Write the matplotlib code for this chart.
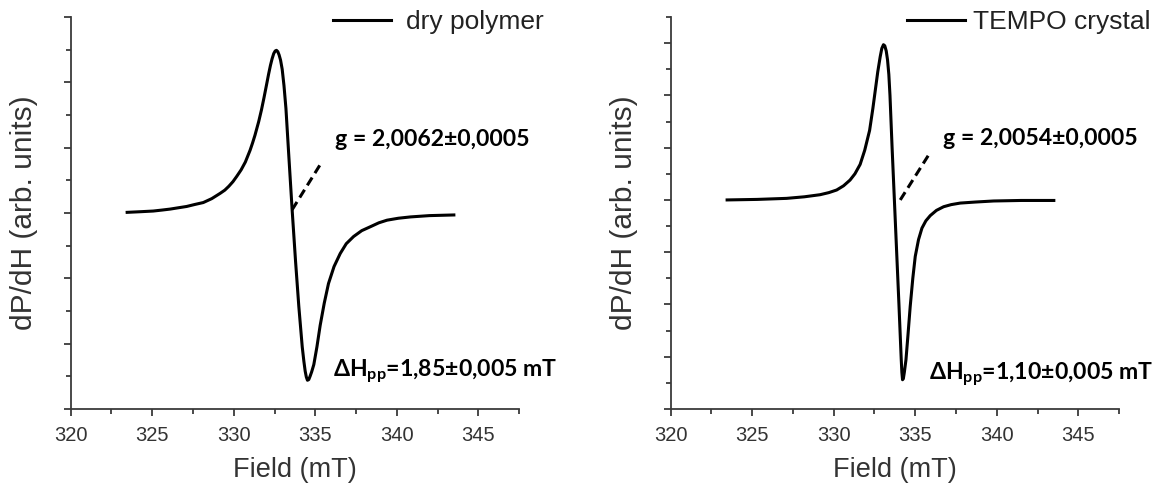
import matplotlib
matplotlib.use('Agg')
import matplotlib.pyplot as plt
from matplotlib.ticker import MultipleLocator

# EPR derivative spectra
poly_field = [323.46, 324.30, 325.06, 325.60, 326.10, 326.60, 327.11, 327.60, 328.13,
              328.65, 329.16, 329.45, 329.70, 329.95, 330.18, 330.45, 330.71, 331.00,
              331.15, 331.30, 331.53, 331.70, 331.85, 332.00, 332.14, 332.25, 332.35,
              332.45, 332.54, 332.62, 332.70, 332.78, 332.87, 332.97, 333.08, 333.20,
              333.37, 333.58, 333.79, 333.99, 334.20, 334.30, 334.38, 334.45, 334.52,
              334.60, 334.68, 334.78, 334.91, 335.10, 335.30, 335.55, 335.81, 336.15,
              336.53, 336.90, 337.35, 337.85, 338.38, 338.90, 339.40, 340.10, 340.84,
              342.00, 343.50]
poly_signal = [0.01, 0.02, 0.03, 0.045, 0.06, 0.08, 0.10, 0.13, 0.16,
               0.22, 0.30, 0.35, 0.41, 0.48, 0.56, 0.66, 0.78, 0.96,
               1.07, 1.19, 1.40, 1.58, 1.76, 1.95, 2.13, 2.26, 2.36,
               2.44, 2.48, 2.49, 2.47, 2.42, 2.34, 2.20, 1.95, 1.60,
               0.90, 0.05, -0.74, -1.43, -2.05, -2.27, -2.42, -2.51, -2.56,
               -2.55, -2.50, -2.43, -2.32, -2.05, -1.72, -1.38, -1.08, -0.82,
               -0.62, -0.47, -0.36, -0.27, -0.21, -0.15, -0.11, -0.08, -0.06,
               -0.04, -0.03]

tempo_field = [323.46, 325.30, 327.11, 328.20, 329.16, 329.70, 330.18, 330.60, 331.00,
               331.30, 331.62, 331.90, 332.20, 332.40, 332.55, 332.70, 332.85, 332.95,
               333.05, 333.13, 333.22, 333.30, 333.38, 333.45, 333.58, 333.72, 333.86,
               334.00, 334.08, 334.14, 334.18, 334.22, 334.27, 334.33, 334.43, 334.55,
               334.69, 334.85, 335.00, 335.20, 335.41, 335.65, 335.92, 336.30, 336.74,
               337.20, 337.76, 338.70, 339.81, 341.50, 343.50]
tempo_signal = [0.00, 0.01, 0.03, 0.06, 0.10, 0.14, 0.19, 0.27, 0.38,
                0.50, 0.68, 0.95, 1.33, 1.75, 2.10, 2.45, 2.74, 2.90,
                2.97, 2.95, 2.85, 2.68, 2.40, 2.00, 1.00, 0.00, -1.00,
                -2.00, -2.60, -3.05, -3.30, -3.44, -3.42, -3.30, -3.06, -2.60,
                -2.04, -1.50, -1.08, -0.76, -0.54, -0.40, -0.30, -0.20, -0.13,
                -0.09, -0.06, -0.04, -0.02, -0.01, -0.01]

# dashed guide lines at the g-value position
poly_gline_x = [333.58, 335.30]
poly_gline_y = [0.05, 0.74]
tempo_gline_x = [334.08, 335.82]
tempo_gline_y = [0.00, 0.86]

labels = ['dry polymer', 'TEMPO crystal']
g_texts = ['g = 2,0062±0,0005', 'g = 2,0054±0,0005']
dh_texts = ['ΔH$_{\\mathregular{pp}}$=1,85±0,005 mT',
            'ΔH$_{\\mathregular{pp}}$=1,10±0,005 mT']
xticks = [320, 325, 330, 335, 340, 345]

axis_font = 'Liberation Sans'
note_font = ['Lato', 'DejaVu Sans']
spine_col = '#3a3a3a'

fig = plt.figure(figsize=(11.54, 4.93), dpi=100)

panels = [
    dict(rect=[0.0613, 0.1704, 0.3885, 0.7951], x=poly_field, y=poly_signal,
         gx=poly_gline_x, gy=poly_gline_y, ylim=(-3, 3),
         gpos=(336.22, 1.03), dpos=(336.10, -2.51), leg=(1.054, 0.987),
         hpad=0.55),
    dict(rect=[0.5812, 0.1704, 0.3885, 0.7951], x=tempo_field, y=tempo_signal,
         gx=tempo_gline_x, gy=tempo_gline_y, ylim=(-4, 3.5),
         gpos=(336.70, 1.05), dpos=(335.85, -3.45), leg=(1.071, 0.987),
         hpad=0.3),
]

for i, p in enumerate(panels):
    ax = fig.add_axes(p['rect'])
    ax.plot(p['x'], p['y'], color='black', lw=2.2, label=labels[i])
    ax.plot(p['gx'], p['gy'], color='black', lw=2.2, linestyle=(0, (3, 1.7)))

    ax.set_xlim(320, 347.5)
    ax.set_ylim(*p['ylim'])
    ax.set_xticks(xticks)
    ax.xaxis.set_minor_locator(MultipleLocator(2.5))
    ax.yaxis.set_major_locator(MultipleLocator(1))
    ax.yaxis.set_minor_locator(MultipleLocator(0.5))

    for s in ['top', 'right']:
        ax.spines[s].set_visible(False)
    for s in ['left', 'bottom']:
        ax.spines[s].set_color(spine_col)
        ax.spines[s].set_linewidth(1.3)

    ax.tick_params(which='major', direction='out', length=5, width=1.3,
                   color=spine_col, pad=7, labelsize=14.5, labelcolor='#333333')
    ax.tick_params(which='minor', direction='out', length=3.5, width=1.3,
                   color=spine_col)
    ax.tick_params(axis='y', labelleft=False)
    for lab in ax.get_xticklabels():
        lab.set_family(axis_font)

    ax.set_xlabel('Field (mT)', fontsize=19.5, family=axis_font,
                  color='#333333', labelpad=9)
    ax.set_ylabel('dP/dH (arb. units)', fontsize=21.5, family=axis_font,
                  color='#333333', labelpad=17)

    ax.text(p['gpos'][0], p['gpos'][1], g_texts[i], fontsize=16.6,
            family=note_font, fontweight='bold', va='baseline')
    ax.text(p['dpos'][0], p['dpos'][1], dh_texts[i], fontsize=16.6,
            family=note_font, fontweight='bold', va='baseline')

    leg = ax.legend(loc='center right', bbox_to_anchor=p['leg'], frameon=False,
                    handlelength=2.2, handletextpad=p['hpad'], borderpad=0,
                    borderaxespad=0, prop={'family': axis_font, 'size': 19})
    for t in leg.get_texts():
        t.set_color('#222222')

fig.savefig('out.png', dpi=100, facecolor='white')
